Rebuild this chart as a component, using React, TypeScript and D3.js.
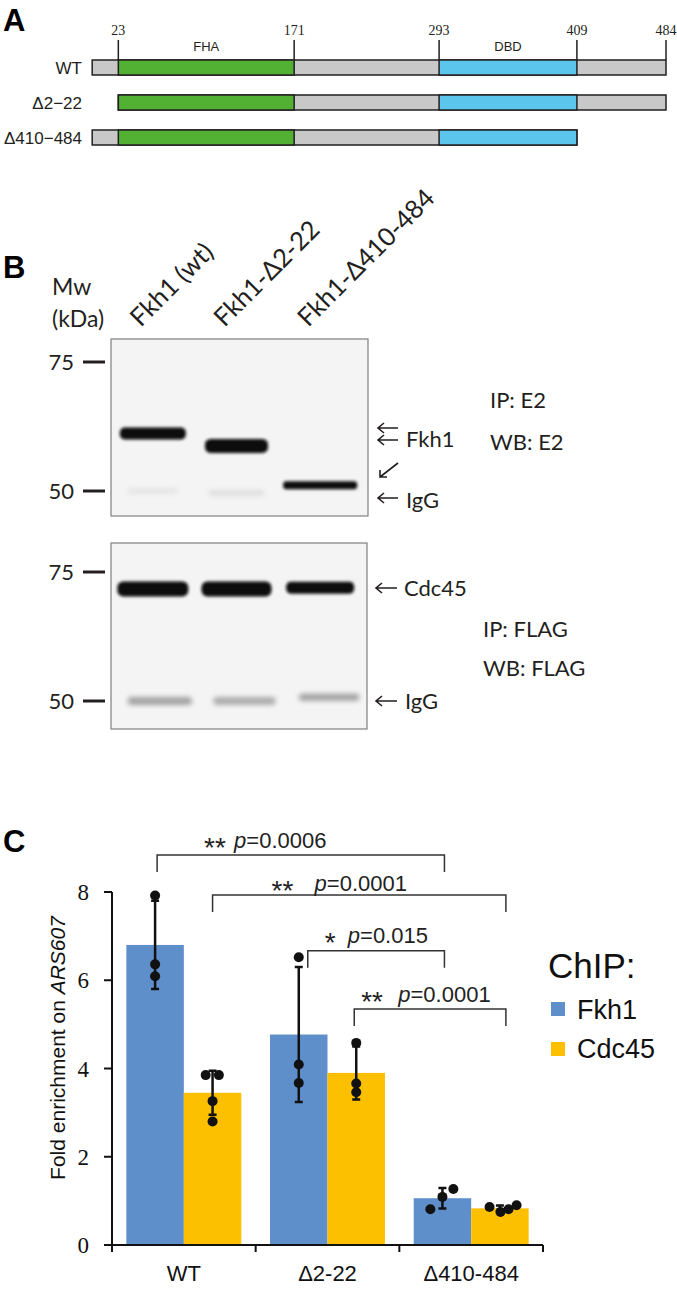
import React from "react";
import * as d3 from "d3";

const SANS = "'Liberation Sans', Arial, Helvetica, sans-serif";
const SERIF = "'Liberation Serif', 'Times New Roman', serif";
const HUMAN = "Lato, 'Open Sans', sans-serif";
const INK = "#231f20";

// ---------- Panel A data ----------
const residueMarks = [23, 171, 293, 409, 484];
const constructNames = ["WT", "Δ2−22", "Δ410−484"];
const constructStart = [1, 23, 1];
const constructEnd = [484, 484, 409];
const domainNames = ["FHA", "DBD"];
const domainStart = [23, 293];
const domainEnd = [171, 409];
const domainColors = ["#52b033", "#5bc5ec"];

// ---------- Panel B data ----------
const laneNames = ["Fkh1 (wt)", "Fkh1-Δ2-22", "Fkh1-Δ410-484"];
const markerKDa = [75, 50];
// IP: E2 / WB: E2 blot
const e2BandLane = [0, 1, 2, 0, 1];
const e2BandKDa = [59.9, 57.6, 50.9, 50.0, 49.7];
const e2BandThick = [12, 14, 8, 5, 6];
const e2BandWidth = [66, 63, 74, 50, 56];
const e2BandShade = ["#0b0b0b", "#0b0b0b", "#0b0b0b", "#e2e2e2", "#dfdfdf"];
// IP: FLAG / WB: FLAG blot
const flagBandLane = [0, 1, 2, 0, 1, 2];
const flagBandKDa = [71.1, 71.1, 71.4, 50.0, 50.0, 50.6];
const flagBandThick = [15, 15, 12, 8, 8, 7];
const flagBandWidth = [71, 70, 68, 64, 62, 60];
const flagBandShade = ["#0b0b0b", "#0b0b0b", "#0b0b0b", "#a2a2a2", "#acacac", "#a0a0a0"];
const flagBandDx = [0, 0, 0, 7, 8, 9];

// ---------- Panel C data ----------
const groups = ["WT", "Δ2-22", "Δ410-484"];
const seriesNames = ["Fkh1", "Cdc45"];
const seriesColors = ["#5e8fca", "#fcc000"];
const fkh1Mean = [6.8, 4.77, 1.06];
const fkh1SD = [1.0, 1.53, 0.23];
const cdc45Mean = [3.45, 3.9, 0.83];
const cdc45SD = [0.5, 0.6, 0.065];
const fkh1Points = [[7.92, 6.36, 6.09], [6.52, 4.09, 3.67], [0.81, 1.09, 1.27]];
const fkh1Jitter = [[0, 0, 0], [0, 0, 0], [-0.21, 0, 0.19]];
const cdc45Points = [[3.85, 3.85, 3.26, 2.8], [4.58, 3.66, 3.46], [0.86, 0.75, 0.81, 0.9]];
const cdc45Jitter = [[-0.12, 0.11, 0, 0], [0, 0, 0], [-0.18, 0.01, 0.15, 0.29]];
const yTicks = [0, 2, 4, 6, 8];

const sigLeftGroup = [0, 0, 1, 1];
const sigLeftSeries = [0, 1, 0, 1];
const sigRightGroup = [2, 2, 2, 2];
const sigRightSeries = [0, 1, 0, 1];
const sigLevel = [8.84, 7.93, 6.67, 5.35];
const sigStars = ["**", "**", "*", "**"];
const sigP = ["0.0006", "0.0001", "0.015", "0.0001"];

// layout tweaks for bracket annotations
const sigLeftDx = [2, 0, 9, -2];
const sigRightDx = [2, 6, 2, 6];
const sigStarDx = [47, 59, 17, 7];
const sigPDx = [77, 102, 40, 44];
const sigLift = [7, 4, 8, 7];

function arrowLeft(x1: number, x2: number, y: number) {
  return `M${x2},${y}H${x1}M${x1 + 6},${y - 5}L${x1},${y}L${x1 + 6},${y + 5}`;
}

export default function App() {
  // ----- Panel A scales -----
  const xA = d3.scaleLinear().domain([0, 484]).range([91, 666]);
  const yA = d3.scaleBand<string>().domain(constructNames).range([60, 145]).paddingInner(4 / 7).paddingOuter(0);
  const rowH = yA.bandwidth();

  // ----- Panel B scales -----
  const xLane = d3.scaleBand<string>().domain(laneNames).range([111, 362]).paddingInner(0.2).paddingOuter(0.1);
  const laneC = (i: number) => (xLane(laneNames[i]) as number) + xLane.bandwidth() / 2;
  const yE2 = d3.scaleLog().domain([75, 50]).range([362, 491]);
  const yFlag = d3.scaleLog().domain([75, 50]).range([572, 701]);

  // ----- Panel C scales -----
  const xG = d3.scaleBand<string>().domain(groups).range([112, 543]).paddingInner(0.2).paddingOuter(0.1);
  const xS = d3.scaleBand<string>().domain(seriesNames).range([0, xG.bandwidth()]);
  const yC = d3.scaleLinear().domain([0, 8]).range([1245, 892]);
  const means = [fkh1Mean, cdc45Mean];
  const sds = [fkh1SD, cdc45SD];
  const pts = [fkh1Points, cdc45Points];
  const jit = [fkh1Jitter, cdc45Jitter];
  const barX = (g: number, s: number) => (xG(groups[g]) as number) + (xS(seriesNames[s]) as number);
  const barC = (g: number, s: number) => barX(g, s) + xS.bandwidth() / 2;
  const groupBounds = d3.range(groups.length + 1).map((i) => xG.range()[0] + i * xG.step());

  const blot = (
    yScale: d3.ScaleLogarithmic<number, number>,
    lane: number[], kda: number[], thick: number[], width: number[], shade: string[], dx: number[] | null
  ) =>
    lane.map((l, i) => {
      const cx = laneC(l) + (dx ? dx[i] : 0);
      const cy = yScale(kda[i]);
      const faint = shade[i] !== "#0b0b0b";
      return (
        <rect key={i} x={cx - width[i] / 2} y={cy - thick[i] / 2} width={width[i]} height={thick[i]}
          rx={thick[i] / 2.5} fill={shade[i]} filter={faint ? "url(#blurSoft)" : "url(#blurBand)"} />
      );
    });

  return (
    <svg width={677} height={1303} viewBox="0 0 677 1303"
      style={{ position: "absolute", left: 0, top: 0, background: "#fff" }}>
      <defs>
        <filter id="blurBand" x="-20%" y="-150%" width="140%" height="400%">
          <feGaussianBlur stdDeviation="1.5" />
        </filter>
        <filter id="blurSoft" x="-20%" y="-150%" width="140%" height="400%">
          <feGaussianBlur stdDeviation="2.4" />
        </filter>
      </defs>
      <rect x={0} y={0} width={677} height={1303} fill="#fff" />

      {/* ================= Panel A ================= */}
      <text x={3} y={31} fontFamily={SANS} fontWeight="bold" fontSize={31} fill="#000">A</text>
      {residueMarks.map((p) => (
        <g key={p}>
          <line x1={xA(p)} x2={xA(p)} y1={40} y2={yA("WT") as number} stroke={INK} strokeWidth={1.5} />
          <text x={xA(p)} y={35} textAnchor="middle" fontFamily={SERIF} fontSize={14} fill={INK}>{p}</text>
        </g>
      ))}
      {domainNames.map((d, i) => (
        <text key={d} x={(xA(domainStart[i]) + xA(domainEnd[i])) / 2} y={51} textAnchor="middle"
          fontFamily={SANS} fontSize={13} fill={INK}>{d}</text>
      ))}
      {constructNames.map((c, r) => {
        const y = yA(c) as number;
        return (
          <g key={c}>
            <rect x={xA(constructStart[r])} y={y} width={xA(constructEnd[r]) - xA(constructStart[r])} height={rowH}
              fill="#c8c8c8" stroke={INK} strokeWidth={1.5} />
            {domainNames.map((d, i) => {
              const s = Math.max(domainStart[i], constructStart[r]);
              const e = Math.min(domainEnd[i], constructEnd[r]);
              return (
                <rect key={d} x={xA(s)} y={y} width={xA(e) - xA(s)} height={rowH}
                  fill={domainColors[i]} stroke={INK} strokeWidth={1.5} />
              );
            })}
            <text x={82} y={y + rowH / 2 + 6} textAnchor="end" fontFamily={SANS} fontSize={17} fill={INK}>{c}</text>
          </g>
        );
      })}

      {/* ================= Panel B ================= */}
      <text x={3} y={278} fontFamily={SANS} fontWeight="bold" fontSize={31} fill="#000">B</text>
      <text x={52} y={295} fontFamily={HUMAN} fontSize={23} fill={INK}>Mw</text>
      <text x={52} y={327} fontFamily={HUMAN} fontSize={23} fill={INK}>(kDa)</text>
      {laneNames.map((l, i) => (
        <text key={l} transform={`translate(${laneC(i) - 12},${328}) rotate(-45)`} fontFamily={HUMAN}
          fontSize={25.5} fill={INK}>{l}</text>
      ))}

      {/* E2 blot */}
      <rect x={111} y={339} width={257} height={177} fill="#f4f4f4" stroke="#7f7f7f" strokeWidth={1.2} />
      {blot(yE2, e2BandLane, e2BandKDa, e2BandThick, e2BandWidth, e2BandShade, null)}
      {markerKDa.map((m) => (
        <g key={"e2" + m}>
          <text x={74} y={yE2(m) + 8} textAnchor="end" fontFamily={HUMAN} fontSize={22} fill={INK}>{m}</text>
          <line x1={83} x2={105} y1={yE2(m)} y2={yE2(m)} stroke={INK} strokeWidth={3} />
        </g>
      ))}
      <g stroke={INK} strokeWidth={1.6} fill="none">
        <path d={arrowLeft(378, 398, 428)} />
        <path d={arrowLeft(378, 398, 440)} />
        <path d="M398,463L380,477M380,470L380,477L387,477" />
        <path d={arrowLeft(378, 398, 498)} />
      </g>
      <text x={406} y={447} fontFamily={HUMAN} fontSize={22} fill={INK}>Fkh1</text>
      <text x={406} y={508} fontFamily={HUMAN} fontSize={22} fill={INK}>IgG</text>
      <text x={490} y={408} fontFamily={HUMAN} fontSize={22} fill={INK}>IP: E2</text>
      <text x={490} y={450} fontFamily={HUMAN} fontSize={22} fill={INK}>WB: E2</text>

      {/* FLAG blot */}
      <rect x={111} y={543} width={256} height={186} fill="#f4f4f4" stroke="#7f7f7f" strokeWidth={1.2} />
      {blot(yFlag, flagBandLane, flagBandKDa, flagBandThick, flagBandWidth, flagBandShade, flagBandDx)}
      {markerKDa.map((m) => (
        <g key={"fl" + m}>
          <text x={74} y={yFlag(m) + 8} textAnchor="end" fontFamily={HUMAN} fontSize={22} fill={INK}>{m}</text>
          <line x1={83} x2={105} y1={yFlag(m)} y2={yFlag(m)} stroke={INK} strokeWidth={3} />
        </g>
      ))}
      <g stroke={INK} strokeWidth={1.6} fill="none">
        <path d={arrowLeft(376, 397, 588)} />
        <path d={arrowLeft(376, 397, 701)} />
      </g>
      <text x={404} y={596} fontFamily={HUMAN} fontSize={22} fill={INK}>Cdc45</text>
      <text x={405} y={709} fontFamily={HUMAN} fontSize={22} fill={INK}>IgG</text>
      <text x={483} y={637} fontFamily={HUMAN} fontSize={22} fill={INK}>IP: FLAG</text>
      <text x={483} y={676} fontFamily={HUMAN} fontSize={22} fill={INK}>WB: FLAG</text>

      {/* ================= Panel C ================= */}
      <text x={3} y={852} fontFamily={SANS} fontWeight="bold" fontSize={31} fill="#000">C</text>

      {/* bars */}
      {groups.map((g, gi) =>
        seriesNames.map((s, si) => (
          <rect key={g + s} x={barX(gi, si)} y={yC(means[si][gi])} width={xS.bandwidth()}
            height={yC(0) - yC(means[si][gi])} fill={seriesColors[si]} />
        ))
      )}
      {/* error bars */}
      <g stroke="#111" strokeWidth={2.5} fill="none">
        {groups.map((g, gi) =>
          seriesNames.map((s, si) => {
            const cx = barC(gi, si);
            const hi = yC(means[si][gi] + sds[si][gi]);
            const lo = yC(means[si][gi] - sds[si][gi]);
            return (
              <path key={g + s} d={`M${cx},${hi}V${lo}M${cx - 4},${hi}H${cx + 4}M${cx - 4},${lo}H${cx + 4}`} />
            );
          })
        )}
      </g>
      {/* points */}
      {groups.map((g, gi) =>
        seriesNames.map((s, si) =>
          pts[si][gi].map((v, k) => (
            <circle key={g + s + k} cx={barC(gi, si) + jit[si][gi][k] * xS.bandwidth()} cy={yC(v)} r={5} fill="#111" />
          ))
        )
      )}

      {/* axes */}
      <g stroke="#111" strokeWidth={2} fill="none">
        <line x1={112} x2={112} y1={yC(8)} y2={yC(0)} />
        <line x1={112} x2={groupBounds[groupBounds.length - 1]} y1={yC(0)} y2={yC(0)} />
        {yTicks.map((t) => <line key={t} x1={104} x2={112} y1={yC(t)} y2={yC(t)} />)}
        {groupBounds.map((b, i) => <line key={i} x1={b} x2={b} y1={yC(0)} y2={yC(0) + 7} />)}
      </g>
      {yTicks.map((t) => (
        <text key={t} x={89} y={yC(t) + 8} textAnchor="end" fontFamily={SERIF} fontSize={23} fill="#111">{t}</text>
      ))}
      {groups.map((g) => (
        <text key={g} x={(xG(g) as number) + xG.bandwidth() / 2} y={1281} textAnchor="middle"
          fontFamily={SANS} fontSize={22} fill="#111">{g}</text>
      ))}
      <text transform={`translate(65,1048) rotate(-90)`} textAnchor="middle" fontFamily={SANS} fontSize={21} fill="#111">
        Fold enrichment on <tspan fontStyle="italic">ARS607</tspan>
      </text>

      {/* significance brackets */}
      {sigLevel.map((lv, i) => {
        const xl = barC(sigLeftGroup[i], sigLeftSeries[i]) + sigLeftDx[i];
        const xr = barC(sigRightGroup[i], sigRightSeries[i]) + sigRightDx[i];
        const y = yC(lv);
        return (
          <g key={i}>
            <path d={`M${xl},${y + 17}V${y}H${xr}V${y + 17}`} stroke="#333" strokeWidth={1.5} fill="none" />
            <text x={xl + sigStarDx[i]} y={y - sigLift[i] + 9} fontFamily={SANS} fontSize={28} fill="#222">{sigStars[i]}</text>
            <text x={xl + sigPDx[i]} y={y - sigLift[i]} fontFamily={SANS} fontSize={22} fill="#222">
              <tspan fontStyle="italic">p</tspan>={sigP[i]}
            </text>
          </g>
        );
      })}

      {/* legend */}
      <text x={548} y={978} fontFamily={SANS} fontSize={35} fill="#111">ChIP:</text>
      {seriesNames.map((s, i) => (
        <g key={s}>
          <rect x={551} y={1002 + i * 40} width={14} height={14} fill={seriesColors[i]} />
          <text x={577} y={1019 + i * 39} fontFamily={SANS} fontSize={27} fill="#111">{s}</text>
        </g>
      ))}
    </svg>
  );
}
